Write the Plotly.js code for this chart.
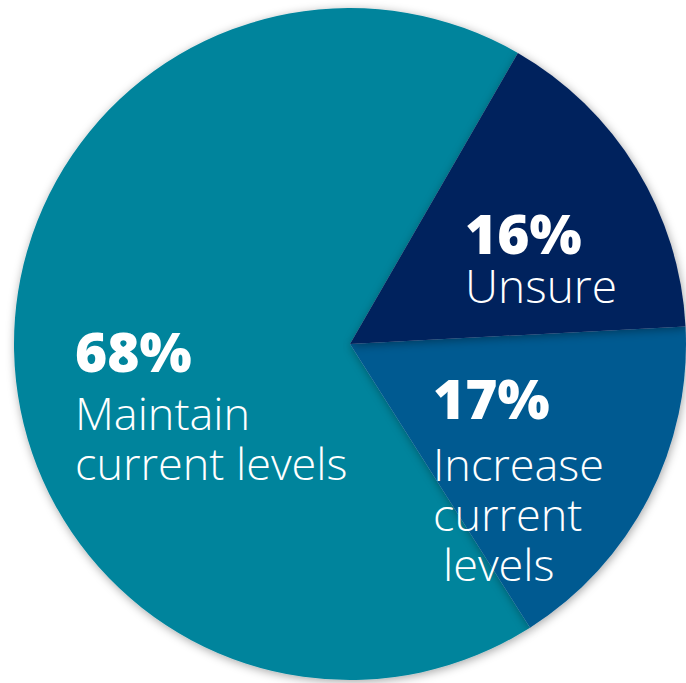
<!DOCTYPE html>
<html>
<head>
<meta charset="utf-8">
<script src="https://cdn.plot.ly/plotly-3.0.1.min.js"></script>
<style>
  html, body { margin: 0; padding: 0; background: #ffffff; overflow: hidden; }
  #chart { width: 686px; height: 683px; }
  .pielayer path.surface { filter: url(#sliceShadow); }
</style>
</head>
<body>
<svg width="0" height="0" style="position:absolute">
  <defs>
    <filter id="sliceShadow" x="-20%" y="-20%" width="140%" height="140%">
      <feDropShadow dx="1" dy="2" stdDeviation="5" flood-color="#000000" flood-opacity="0.35"/>
    </filter>
  </defs>
</svg>
<div id="chart"></div>
<script>
// ---- data ----
const labels = ['Maintain current levels', 'Increase current levels', 'Unsure'];
const values = [68, 17, 16];
const labelLines = [['Maintain', 'current levels'], ['Increase', 'current', 'levels'], ['Unsure']];
const colors = ['#00849C', '#035A91', '#02245D'];

// ---- label placement (pixels in the 686x683 frame) ----
const W = 686, H = 683;
const FONT = '"Open Sans", Lato, sans-serif';
const labelPos = [
  { x: 73,  pctY: 350, firstY: 412, step: 50, size: 45, indent: [0, 0] },
  { x: 431, pctY: 397, firstY: 463, step: 50, size: 45, indent: [0, 0, 10] },
  { x: 463, pctY: 232, firstY: 285, step: 50, size: 46, indent: [0] }
];

const annotations = [];
labels.forEach(function (lab, i) {
  const p = labelPos[i];
  annotations.push({
    text: values[i] + '%', xref: 'paper', yref: 'paper',
    x: p.x / W, y: 1 - p.pctY / H, xanchor: 'left', yanchor: 'middle',
    showarrow: false,
    font: { family: FONT, size: 55, color: '#ffffff', weight: 800 }
  });
  labelLines[i].forEach(function (line, j) {
    annotations.push({
      text: line, xref: 'paper', yref: 'paper',
      x: (p.x + p.indent[j]) / W, y: 1 - (p.firstY + j * p.step) / H,
      xanchor: 'left', yanchor: 'middle', showarrow: false,
      font: { family: FONT, size: p.size, color: '#ffffff', weight: 300 }
    });
  });
});

const trace = {
  type: 'pie',
  labels: labels,
  values: values,
  sort: false,
  direction: 'counterclockwise',
  rotation: 147.6,
  textinfo: 'none',
  hoverinfo: 'label+percent',
  marker: { colors: colors, line: { width: 0 } },
  domain: { x: [14 / W, 1], y: [1 - 680 / H, 1 - 8 / H] },
  automargin: false
};

const layout = {
  width: W, height: H,
  margin: { l: 0, r: 0, t: 0, b: 0, pad: 0 },
  showlegend: false,
  paper_bgcolor: '#ffffff',
  annotations: annotations
};

Plotly.newPlot('chart', [trace], layout, { displayModeBar: false, staticPlot: true });
</script>
</body>
</html>
